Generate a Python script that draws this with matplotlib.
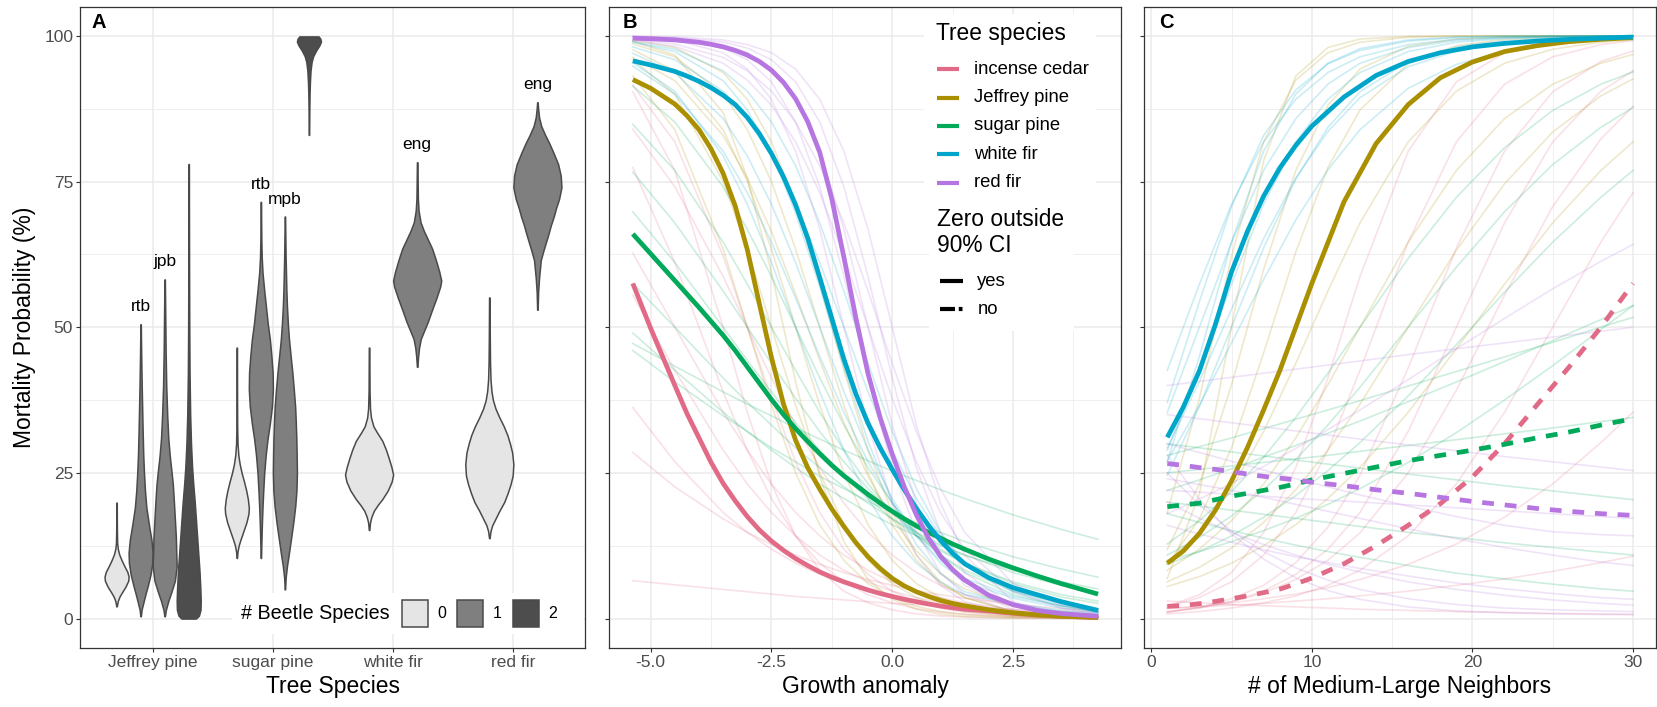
import matplotlib
matplotlib.use("Agg")
import matplotlib.pyplot as plt
import numpy as np
from matplotlib.patches import Rectangle
from matplotlib.lines import Line2D

W, H = 1658, 707
plt.rcParams['font.family'] = ['Liberation Sans', 'DejaVu Sans']
plt.rcParams['axes.unicode_minus'] = False

# ---------------- panel A: violins (mortality %, relative half width) ----------------
tree_cats = ["Jeffrey pine", "sugar pine", "white fir", "red fir"]
beetle_levels = ["0", "1", "2"]
beetle_fill = ["#E5E5E5", "#7F7F7F", "#4D4D4D"]

jp0_y = [2.1, 3.0, 3.8, 4.5, 5.5, 6.5, 7.2, 8.0, 9.0, 10.0, 11.0, 12.0, 13.0, 15.0, 17.5, 19.9]
jp0_w = [0.02, 0.1, 0.25, 0.45, 0.75, 0.97, 1.0, 0.9, 0.65, 0.42, 0.22, 0.1, 0.05, 0.03, 0.02, 0.015]
jp_rtb_y = [0.4, 1.5, 2.5, 4.0, 5.5, 7.5, 9.5, 11.3, 13.5, 16.0, 19.0, 22.0, 25.0, 28.0, 32.0, 36.0, 40.0, 45.0, 50.5]
jp_rtb_w = [0.02, 0.08, 0.2, 0.38, 0.58, 0.82, 0.97, 1.0, 0.9, 0.7, 0.48, 0.36, 0.28, 0.22, 0.17, 0.13, 0.09, 0.05, 0.015]
jp_jpb_y = [0.4, 1.5, 3.0, 4.5, 6.5, 9.0, 11.5, 14.0, 17.0, 20.0, 23.0, 25.0, 28.0, 31.0, 35.0, 40.0, 46.0, 52.0, 58.2]
jp_jpb_w = [0.02, 0.1, 0.3, 0.55, 0.85, 1.0, 0.96, 0.93, 0.85, 0.77, 0.68, 0.58, 0.42, 0.3, 0.21, 0.13, 0.08, 0.05, 0.015]
jp2_y = [0.0, 0.5, 1.5, 3.0, 5.0, 8.0, 11.0, 14.0, 17.0, 20.0, 23.0, 26.0, 30.0, 35.0, 42.0, 50.0, 60.0, 70.0, 78.0]
jp2_w = [0.6, 0.85, 0.98, 1.0, 0.97, 0.9, 0.8, 0.7, 0.6, 0.5, 0.38, 0.28, 0.19, 0.12, 0.07, 0.045, 0.03, 0.02, 0.015]

sp0_y = [10.4, 11.5, 12.5, 13.5, 15.0, 16.5, 18.0, 19.0, 20.5, 22.0, 23.5, 25.0, 26.5, 28.0, 30.0, 33.0, 38.0, 46.5]
sp0_w = [0.015, 0.06, 0.15, 0.3, 0.55, 0.8, 0.97, 1.0, 0.92, 0.78, 0.6, 0.4, 0.24, 0.13, 0.06, 0.03, 0.02, 0.015]
sp_rtb_y = [10.4, 13.6, 16.5, 19.3, 22.0, 25.0, 28.0, 30.7, 33.5, 36.4, 39.3, 42.2, 45.0, 47.9, 50.5, 53.6, 56.5, 59.3, 62.0, 65.0, 68.0, 71.5]
sp_rtb_w = [0.015, 0.05, 0.09, 0.14, 0.2, 0.28, 0.4, 0.55, 0.75, 0.92, 1.0, 0.98, 0.88, 0.75, 0.58, 0.42, 0.27, 0.14, 0.07, 0.04, 0.025, 0.015]
sp_mpb_y = [5.0, 7.0, 9.0, 11.0, 13.6, 16.5, 19.3, 22.0, 25.0, 28.0, 31.0, 34.0, 36.4, 39.3, 42.2, 45.0, 47.9, 50.5, 53.6, 56.5, 59.3, 62.0, 65.0, 69.0]
sp_mpb_w = [0.015, 0.06, 0.17, 0.32, 0.5, 0.7, 0.86, 0.96, 1.0, 0.98, 0.95, 0.9, 0.85, 0.74, 0.62, 0.48, 0.34, 0.25, 0.17, 0.12, 0.09, 0.06, 0.04, 0.015]
sp2_y = [83.0, 87.0, 90.0, 92.0, 94.0, 95.5, 96.5, 97.5, 98.3, 99.0, 99.5, 99.9]
sp2_w = [0.015, 0.03, 0.05, 0.08, 0.13, 0.22, 0.35, 0.6, 0.85, 1.0, 0.95, 0.8]

wf0_y = [15.2, 16.5, 17.5, 18.5, 19.5, 20.5, 22.0, 23.5, 24.7, 26.0, 27.5, 29.0, 30.5, 32.0, 33.0, 34.5, 36.0, 39.0, 46.5]
wf0_w = [0.01, 0.04, 0.1, 0.2, 0.36, 0.55, 0.78, 0.94, 1.0, 0.93, 0.82, 0.7, 0.55, 0.32, 0.18, 0.08, 0.04, 0.02, 0.01]
wf_eng_y = [43.2, 45.0, 46.5, 48.0, 49.5, 51.0, 53.0, 55.0, 57.0, 58.0, 59.5, 61.5, 63.5, 65.0, 66.5, 68.0, 70.0, 72.0, 75.0, 78.3]
wf_eng_w = [0.01, 0.04, 0.08, 0.15, 0.3, 0.45, 0.62, 0.8, 0.96, 1.0, 0.92, 0.78, 0.62, 0.45, 0.28, 0.14, 0.06, 0.03, 0.02, 0.01]

rf0_y = [13.8, 15.0, 16.0, 17.0, 18.5, 20.0, 21.5, 23.0, 24.5, 26.5, 28.5, 30.0, 31.5, 33.0, 34.5, 36.0, 37.5, 39.0, 41.0, 44.0, 48.0, 55.1]
rf0_w = [0.01, 0.05, 0.12, 0.24, 0.42, 0.62, 0.76, 0.88, 0.97, 1.0, 0.95, 0.86, 0.75, 0.6, 0.42, 0.26, 0.15, 0.09, 0.05, 0.03, 0.02, 0.01]
rf_eng_y = [53.0, 56.0, 58.5, 61.5, 63.0, 64.5, 66.0, 67.5, 69.0, 70.5, 72.0, 74.0, 76.0, 78.0, 80.0, 81.5, 83.0, 84.5, 86.0, 87.5, 88.6]
rf_eng_w = [0.01, 0.03, 0.07, 0.14, 0.24, 0.35, 0.46, 0.56, 0.68, 0.78, 0.9, 1.0, 0.97, 0.86, 0.66, 0.5, 0.32, 0.16, 0.07, 0.03, 0.01]

# (category, slot, slots, beetles, label, y, w)
violins = [
    (0, 0, 4, 0, None, jp0_y, jp0_w),
    (0, 1, 4, 1, "rtb", jp_rtb_y, jp_rtb_w),
    (0, 2, 4, 1, "jpb", jp_jpb_y, jp_jpb_w),
    (0, 3, 4, 2, None, jp2_y, jp2_w),
    (1, 0, 4, 0, None, sp0_y, sp0_w),
    (1, 1, 4, 1, "rtb", sp_rtb_y, sp_rtb_w),
    (1, 2, 4, 1, "mpb", sp_mpb_y, sp_mpb_w),
    (1, 3, 4, 2, None, sp2_y, sp2_w),
    (2, 0, 2, 0, None, wf0_y, wf0_w),
    (2, 1, 2, 1, "eng", wf_eng_y, wf_eng_w),
    (3, 0, 2, 0, None, rf0_y, rf0_w),
    (3, 1, 2, 1, "eng", rf_eng_y, rf_eng_w),
]

# ---------------- species curves ----------------
species = ["incense cedar", "Jeffrey pine", "sugar pine", "white fir", "red fir"]
sp_colors = ["#E16A86", "#AA9000", "#00AA5A", "#00A6CA", "#B675E0"]

# panel B: growth anomaly (mean curves)
growth_x = [-5.37, -5.0, -4.5, -4.25, -4.0, -3.75, -3.5, -3.25, -3.0, -2.75, -2.5, -2.25, -2.0, -1.75, -1.5, -1.25,
            -1.0, -0.75, -0.5, -0.25, 0.0, 0.25, 0.5, 0.75, 1.0, 1.25, 1.5, 2.0, 2.5, 3.0, 3.5, 4.26]
b_ic = [57.5, 49.8, 40.0, 35.2, 31.0, 26.8, 23.2, 20.2, 17.5, 15.2, 13.3, 11.7, 10.3, 9.1, 8.0, 7.1,
        6.3, 5.6, 4.9, 4.3, 3.8, 3.3, 2.9, 2.5, 2.15, 1.85, 1.6, 1.3, 0.9, 0.6, 0.4, 0.15]
b_jp = [92.5, 91.0, 88.3, 86.3, 83.9, 80.6, 76.4, 70.8, 63.3, 54.0, 44.8, 36.8, 30.6, 25.9, 22.2, 18.8,
        15.8, 13.0, 10.6, 8.6, 6.9, 5.6, 4.6, 3.8, 3.1, 2.6, 2.2, 1.5, 1.0, 0.65, 0.4, 0.2]
b_sp = [66.0, 62.6, 58.0, 55.7, 53.4, 51.0, 48.6, 46.0, 43.2, 40.4, 37.6, 35.0, 32.6, 30.4, 28.3, 26.3,
        24.5, 22.9, 21.3, 19.8, 18.4, 17.1, 15.9, 14.8, 13.8, 12.8, 11.9, 10.2, 8.7, 7.3, 6.0, 4.2]
b_wf = [95.7, 95.0, 93.9, 93.1, 92.2, 91.1, 89.8, 88.2, 86.0, 83.2, 79.8, 75.8, 71.0, 65.3, 58.5, 51.5,
        44.5, 38.5, 33.5, 29.3, 25.6, 22.1, 18.9, 16.0, 13.4, 11.2, 9.4, 7.0, 5.3, 4.1, 2.9, 1.4]
b_rf = [99.6, 99.5, 99.3, 99.1, 98.9, 98.55, 98.1, 97.5, 96.7, 95.6, 94.1, 92.0, 89.2, 85.3, 80.0, 72.0,
        62.0, 51.5, 42.0, 34.5, 28.2, 22.6, 17.8, 13.8, 10.7, 8.4, 6.6, 4.0, 2.4, 1.4, 0.85, 0.4]
b_main = [b_ic, b_jp, b_sp, b_wf, b_rf]

# panel B: individual posterior draws (faint lines)
growth_x_draws = [-5.37, -4.5, -3.5, -3.0, -2.5, -2.0, -1.5, -1.0, -0.5, 0.0, 0.5, 1.0, 1.5, 2.5, 3.5, 4.26]
bd_ic = [[77.4, 61.1, 38.9, 28.9, 20.6, 14.2, 9.5, 6.3, 4.1, 2.7, 1.7, 1.1, 0.7, 0.3, 0.12, 0.06],
         [91.5, 81.8, 62.2, 50.0, 37.8, 26.9, 18.2, 11.9, 7.6, 4.7, 2.9, 1.8, 1.1, 0.4, 0.15, 0.07],
         [55.5, 42.6, 28.9, 23.1, 18.2, 14.2, 10.9, 8.3, 6.3, 4.7, 3.6, 2.7, 2.0, 1.1, 0.6, 0.38],
         [36.2, 26.9, 18.2, 14.8, 11.9, 9.5, 7.6, 6.0, 4.7, 3.7, 2.9, 2.3, 1.8, 1.1, 0.67, 0.46],
         [28.5, 22.6, 17.1, 14.8, 12.7, 10.9, 9.3, 7.9, 6.7, 5.7, 4.8, 4.1, 3.5, 2.5, 1.7, 1.4],
         [6.5, 5.8, 5.0, 4.6, 4.2, 3.8, 3.5, 3.2, 2.9, 2.6, 2.4, 2.2, 2.0, 1.6, 1.3, 1.1],
         [90.4, 76.9, 50.0, 35.4, 23.1, 14.2, 8.3, 4.7, 2.7, 1.5, 0.8, 0.45, 0.25, 0.07, 0.02, 0.01],
         [84.0, 74.1, 58.7, 50.0, 41.3, 33.2, 25.9, 19.8, 14.8, 10.9, 7.9, 5.7, 4.1, 2.1, 1.05, 0.62],
         [62.7, 50.0, 35.4, 28.9, 23.1, 18.2, 14.2, 10.9, 8.3, 6.3, 4.7, 3.6, 2.7, 1.5, 0.8, 0.5]]
bd_jp = [[95.9, 90.0, 75.0, 63.4, 50.0, 36.6, 25.0, 16.1, 10.0, 6.0, 3.6, 2.1, 1.2, 0.45, 0.2, 0.1],
         [97.6, 94.0, 83.9, 75.0, 63.4, 50.0, 36.6, 25.0, 16.1, 10.0, 6.0, 3.6, 2.1, 0.8, 0.3, 0.15],
         [98.6, 96.4, 90.0, 83.9, 75.0, 63.4, 50.0, 36.6, 25.0, 16.1, 10.0, 6.0, 3.6, 1.3, 0.5, 0.25],
         [93.1, 83.9, 63.4, 50.0, 36.6, 25.0, 16.1, 10.0, 6.0, 3.6, 2.1, 1.2, 0.7, 0.25, 0.1, 0.05],
         [99.1, 96.7, 86.8, 75.6, 59.4, 40.6, 24.4, 13.2, 6.7, 3.3, 1.6, 0.75, 0.36, 0.1, 0.05, 0.03],
         [96.3, 92.3, 82.9, 75.6, 66.4, 55.7, 44.3, 33.6, 24.4, 17.1, 11.6, 7.7, 5.1, 2.1, 0.9, 0.45],
         [99.3, 98.0, 93.7, 89.1, 81.8, 71.1, 57.4, 42.6, 28.9, 18.2, 10.9, 6.3, 3.6, 1.1, 0.35, 0.15]]
bd_sp = [[76.6, 67.9, 56.2, 50.0, 43.8, 37.8, 32.1, 26.9, 22.3, 18.2, 14.8, 11.9, 9.5, 6.0, 3.7, 2.6],
         [57.5, 50.0, 41.3, 37.1, 33.2, 29.3, 25.9, 22.6, 19.8, 17.1, 14.8, 12.7, 10.9, 7.9, 5.7, 4.4],
         [84.8, 76.9, 64.6, 57.4, 50.0, 42.6, 35.4, 28.9, 23.1, 18.2, 14.2, 10.9, 8.3, 4.7, 2.7, 1.7],
         [49.0, 42.6, 35.4, 32.1, 28.9, 25.9, 23.1, 20.6, 18.2, 16.1, 14.2, 12.5, 10.9, 8.3, 6.3, 5.1],
         [69.8, 61.1, 50.0, 44.3, 38.9, 33.6, 28.9, 24.4, 20.6, 17.1, 14.2, 11.6, 9.5, 6.3, 4.1, 3.0],
         [46.0, 40.6, 34.8, 32.1, 29.3, 26.9, 24.4, 22.3, 20.1, 18.2, 16.4, 14.8, 13.2, 10.6, 8.5, 7.1],
         [47.2, 43.3, 38.9, 36.8, 34.8, 32.7, 30.8, 28.9, 27.1, 25.3, 23.7, 22.1, 20.6, 17.8, 15.3, 13.6],
         [91.4, 85.2, 74.1, 66.8, 58.7, 50.0, 41.3, 33.2, 25.9, 19.8, 14.8, 10.9, 7.9, 4.1, 2.1, 1.2]]
bd_wf = [[97.0, 93.7, 85.8, 79.4, 71.1, 61.1, 50.0, 38.9, 28.9, 20.6, 14.2, 9.5, 6.3, 3.5, 1.8, 1.1],
         [98.1, 95.9, 90.5, 85.8, 79.4, 71.1, 61.1, 50.0, 38.9, 28.9, 20.6, 14.2, 9.5, 4.8, 2.5, 1.6],
         [95.4, 90.5, 79.4, 71.1, 61.1, 50.0, 38.9, 28.9, 20.6, 14.2, 9.5, 6.3, 4.1, 2.6, 1.4, 0.9],
         [98.9, 97.3, 92.3, 87.3, 79.9, 69.6, 56.9, 43.1, 30.4, 20.1, 12.7, 7.7, 4.6, 2.4, 1.2, 0.7],
         [94.8, 90.0, 80.2, 73.1, 64.6, 55.0, 45.0, 35.4, 26.9, 19.8, 14.2, 10.0, 6.9, 3.8, 2.2, 1.5],
         [99.0, 97.7, 94.0, 90.5, 85.2, 77.7, 67.9, 56.2, 43.8, 32.1, 22.3, 14.8, 9.5, 4.5, 2.2, 1.3]]
bd_rf = [[99.7, 99.3, 97.1, 94.3, 89.1, 80.2, 66.8, 50.0, 33.2, 19.8, 10.9, 5.7, 2.9, 0.9, 0.35, 0.2],
         [99.8, 99.5, 97.9, 95.9, 92.1, 85.2, 74.1, 58.7, 41.3, 25.9, 14.8, 7.9, 4.1, 1.1, 0.4, 0.2],
         [99.85, 99.6, 98.5, 97.1, 94.3, 89.1, 80.2, 66.8, 50.0, 33.2, 19.8, 10.9, 5.7, 1.5, 0.5, 0.25],
         [99.9, 99.7, 98.95, 97.9, 95.9, 92.1, 85.2, 74.1, 58.7, 41.3, 25.9, 14.8, 7.9, 2.1, 0.6, 0.3],
         [99.93, 99.8, 99.3, 98.5, 97.1, 94.3, 89.1, 80.2, 66.8, 50.0, 33.2, 19.8, 10.9, 2.9, 0.8, 0.35],
         [99.2, 98.2, 95.3, 92.4, 88.1, 81.8, 73.1, 62.2, 50.0, 37.8, 26.9, 18.2, 11.9, 4.7, 1.8, 0.85],
         [99.4, 98.6, 96.3, 94.0, 90.5, 85.2, 77.7, 67.9, 56.2, 43.8, 32.1, 22.3, 14.8, 6.0, 2.3, 1.1]]
b_draws = [bd_ic, bd_jp, bd_sp, bd_wf, bd_rf]

# panel C: medium-large neighbours (mean curves)
nbr_x = [1, 2, 3, 4, 5, 6, 7, 8, 9, 10, 12, 14, 16, 18, 20, 22, 24, 26, 28, 30]
c_ic = [2.1, 2.25, 2.55, 2.95, 3.4, 3.9, 4.45, 5.05, 5.95, 6.95, 9.4, 12.5, 16.0, 19.7, 24.3, 30.0, 36.6, 43.1, 50.0, 57.5]
c_jp = [9.5, 11.6, 14.6, 18.6, 23.6, 29.4, 35.8, 42.5, 50.0, 57.5, 71.5, 81.5, 88.2, 92.8, 95.5, 97.3, 98.3, 99.0, 99.4, 99.7]
c_sp = [19.2, 19.5, 19.8, 20.4, 21.0, 21.5, 22.0, 22.5, 23.1, 23.8, 24.9, 26.0, 27.1, 28.0, 28.9, 29.9, 31.0, 32.0, 33.2, 34.3]
c_wf = [31.1, 36.3, 42.5, 50.5, 59.5, 66.5, 72.5, 77.3, 81.2, 84.5, 89.5, 93.2, 95.6, 97.1, 98.1, 98.7, 99.1, 99.4, 99.6, 99.8]
c_rf = [26.6, 26.3, 25.9, 25.6, 25.2, 24.8, 24.4, 24.1, 23.8, 23.4, 22.8, 22.1, 21.5, 20.8, 20.1, 19.5, 18.9, 18.4, 18.0, 17.7]
c_main = [c_ic, c_jp, c_sp, c_wf, c_rf]
c_zero_outside = ["no", "yes", "no", "yes", "no"]

# panel C: individual posterior draws (faint lines)
nbr_x_draws = [1, 3, 5, 7, 9, 11, 13, 16, 19, 22, 25, 28, 30]
cd_ic = [[2.0, 3.6, 6.3, 10.9, 18.2, 28.9, 42.6, 64.6, 81.8, 91.7, 96.4, 98.5, 99.2],
         [1.1, 1.9, 3.4, 5.7, 9.6, 15.7, 24.6, 43.0, 63.6, 80.2, 90.4, 95.6, 97.4],
         [1.2, 1.9, 2.9, 4.4, 6.7, 10.0, 14.7, 25.0, 39.2, 55.5, 70.7, 82.3, 87.9],
         [0.8, 1.2, 1.8, 2.7, 3.9, 5.7, 8.3, 14.2, 23.1, 35.4, 50.0, 64.6, 73.1],
         [2.1, 4.1, 7.9, 14.8, 25.9, 41.3, 58.7, 80.2, 92.1, 97.1, 98.95, 99.6, 99.8],
         [1.7, 2.1, 2.7, 3.4, 4.2, 5.3, 6.7, 9.3, 12.8, 17.4, 23.1, 30.2, 35.4],
         [3.0, 2.7, 2.4, 2.2, 2.0, 1.8, 1.6, 1.4, 1.2, 1.05, 0.9, 0.8, 0.7],
         [1.8, 2.0, 2.3, 2.6, 3.0, 3.4, 3.9, 4.7, 5.7, 6.8, 8.1, 9.6, 10.7],
         [1.1, 1.8, 2.9, 4.7, 7.6, 11.9, 18.2, 32.1, 50.0, 67.9, 81.8, 90.5, 94.0]]
cd_jp = [[18.2, 37.8, 62.2, 81.8, 92.4, 97.1, 98.9, 99.75, 99.94, 100, 100, 100, 100],
         [11.9, 23.1, 40.1, 59.9, 76.9, 88.1, 94.3, 98.2, 99.45, 99.8, 99.95, 99.98, 99.99],
         [9.5, 14.8, 22.3, 32.1, 43.8, 56.2, 67.9, 81.8, 90.5, 95.3, 97.7, 98.9, 99.3],
         [8.3, 11.9, 16.8, 23.1, 31.0, 40.1, 50.0, 64.6, 76.9, 85.8, 91.7, 95.3, 96.8],
         [6.3, 8.8, 12.1, 16.5, 22.1, 28.9, 36.8, 50.0, 63.2, 74.6, 83.5, 89.7, 92.6],
         [9.3, 17.1, 29.3, 45.6, 62.9, 77.4, 87.3, 95.2, 98.3, 99.4, 99.8, 99.9, 99.96],
         [6.9, 21.4, 50.0, 78.6, 93.1, 98.0, 99.45, 99.9, 100, 100, 100, 100, 100],
         [5.5, 7.2, 9.5, 12.5, 16.1, 20.6, 25.9, 35.4, 46.3, 57.4, 67.9, 76.9, 81.8]]
cd_sp = [[10.9, 13.9, 17.6, 22.1, 27.3, 33.2, 39.7, 50.0, 60.3, 69.8, 77.9, 84.3, 87.7],
         [25.0, 25.6, 26.2, 26.8, 27.4, 28.0, 28.7, 29.7, 30.7, 31.7, 32.7, 33.8, 34.5],
         [20.0, 19.3, 18.6, 17.9, 17.2, 16.5, 15.8, 14.8, 13.9, 13.0, 12.2, 11.4, 10.9],
         [9.3, 11.5, 14.2, 17.4, 21.1, 25.4, 30.2, 38.2, 47.0, 56.0, 64.6, 72.3, 76.9],
         [28.0, 29.5, 31.0, 32.6, 34.2, 35.8, 37.4, 39.9, 42.4, 44.9, 47.4, 50.0, 51.7],
         [18.0, 16.5, 15.1, 13.8, 12.6, 11.5, 10.5, 9.1, 7.8, 6.8, 5.9, 5.1, 4.7],
         [22.0, 23.8, 25.7, 27.7, 29.7, 31.8, 33.9, 37.2, 40.6, 44.1, 47.7, 51.3, 53.7],
         [10.0, 11.5, 13.2, 15.1, 17.2, 19.6, 22.3, 26.8, 31.9, 37.5, 43.4, 49.6, 53.7],
         [30.0, 29.3, 28.6, 27.9, 27.2, 26.5, 25.8, 24.8, 23.8, 22.8, 21.9, 21.0, 20.4],
         [12.8, 16.8, 21.8, 27.7, 34.5, 42.1, 50.0, 61.8, 72.3, 80.8, 87.2, 91.7, 93.8]]
cd_wf = [[35.4, 50.0, 64.6, 76.9, 85.8, 91.7, 95.3, 98.0, 99.2, 99.67, 99.86, 99.94, 99.97],
         [28.9, 42.6, 57.4, 71.1, 81.8, 89.1, 93.7, 97.3, 98.9, 99.55, 99.8, 99.93, 99.96],
         [24.6, 36.4, 50.0, 63.6, 75.4, 84.3, 90.4, 95.6, 98.1, 99.15, 99.63, 99.84, 99.91],
         [37.1, 54.4, 70.7, 82.9, 90.7, 95.2, 97.5, 99.1, 99.7, 99.9, 99.96, 99.98, 99.99],
         [29.3, 40.7, 53.1, 65.2, 75.6, 83.6, 89.4, 94.7, 97.4, 98.8, 99.4, 99.7, 99.8],
         [26.9, 45.0, 64.6, 80.2, 90.0, 95.3, 97.8, 99.3, 99.8, 99.94, 99.98, 99.99, 100],
         [42.6, 57.4, 71.1, 81.8, 89.1, 93.7, 96.4, 98.5, 99.4, 99.75, 99.9, 99.96, 99.98],
         [27.1, 36.6, 47.3, 58.2, 68.4, 77.0, 83.9, 91.0, 95.1, 97.4, 98.6, 99.3, 99.5]]
cd_rf = [[35.0, 34.3, 33.6, 32.9, 32.2, 31.5, 30.8, 29.8, 28.8, 27.8, 26.9, 26.0, 25.4],
         [20.0, 17.2, 14.8, 12.7, 10.9, 9.3, 8.0, 6.3, 5.0, 4.0, 3.2, 2.6, 2.3],
         [30.0, 28.5, 27.0, 25.5, 24.0, 22.6, 21.2, 19.3, 17.5, 16.0, 14.9, 14.4, 14.2],
         [25.0, 19.5, 15.0, 11.5, 8.7, 6.6, 5.0, 3.4, 2.4, 1.8, 1.5, 1.3, 1.2],
         [40.0, 40.7, 41.4, 42.1, 42.8, 43.5, 44.2, 45.3, 46.3, 47.3, 48.3, 49.3, 50.0],
         [16.0, 14.5, 13.1, 11.8, 10.6, 9.6, 8.6, 7.3, 6.1, 5.1, 4.3, 3.6, 3.3],
         [28.0, 20.5, 14.5, 10.2, 7.0, 4.8, 3.3, 2.0, 1.3, 1.0, 0.8, 0.7, 0.7],
         [22.0, 21.7, 21.3, 21.0, 20.6, 20.3, 20.0, 19.5, 19.0, 18.5, 18.0, 17.5, 17.2],
         [18.0, 20.5, 23.2, 26.1, 29.2, 32.4, 35.8, 41.0, 46.3, 51.5, 56.6, 61.3, 64.2],
         [24.0, 23.0, 22.0, 20.8, 19.6, 18.4, 17.2, 15.4, 13.7, 12.2, 10.9, 9.7, 9.1]]
c_draws = [cd_ic, cd_jp, cd_sp, cd_wf, cd_rf]

y_ticks = [0, 25, 50, 75, 100]
b_ticks = [-5.0, -2.5, 0.0, 2.5]
b_tick_labels = ["-5.0", "-2.5", "0.0", "2.5"]
c_ticks = [0, 10, 20, 30]

# ---------------- figure ----------------
GRID = "#EBEBEB"
DARK = "#333333"
OUTLINE = "#4A4A4A"
MAIN_LW = 3.4
DASH = (2.5, 2.3)
FAINT_LW = 1.2
FAINT_ALPHA = 0.2


def px(x, y):
    return x / W, 1 - y / H


def new_axes(x0, x1, y0=6.7, y1=647.7):
    ax = fig.add_axes([x0 / W, 1 - y1 / H, (x1 - x0) / W, (y1 - y0) / H])
    for s in ax.spines.values():
        s.set_color(DARK)
        s.set_linewidth(0.9)
    ax.tick_params(length=2.9, width=0.8, color=DARK, labelcolor="#4D4D4D", labelsize=12.5, pad=2.4)
    ax.tick_params(which="minor", length=0)
    ax.set_ylim(-5, 105)
    ax.set_yticks(y_ticks)
    ax.set_yticks([12.5, 37.5, 62.5, 87.5], minor=True)
    ax.grid(which="major", color=GRID, lw=1.1)
    ax.grid(which="minor", color=GRID, lw=0.55)
    ax.set_axisbelow(True)
    return ax


fig = plt.figure(figsize=(W / 100, H / 100), dpi=100)

# ---- A ----
axA = new_axes(80.5, 585.5)
axA.set_xlim(0.4, 4.6)
axA.set_xticks(range(1, 5))
axA.set_xticklabels(tree_cats)
axA.set_yticklabels([str(v) for v in y_ticks])
for cat, slot, n, beetles, label, ys, ws in violins:
    cx = cat + 1 + (slot - (n - 1) / 2) * 0.8 / n
    hw = 0.4 / n
    w = np.asarray(ws) * hw
    axA.fill_betweenx(ys, cx - w, cx + w, facecolor=beetle_fill[beetles],
                      edgecolor=OUTLINE, linewidth=1.1, zorder=3)
    if label:
        axA.text(cx, max(ys) + 3.0, label, ha="center", va="center", fontsize=12.5, color="black")

# ---- B ----
axB = new_axes(609, 1120.7)
axB.set_xlim(-5.863, 4.73)
axB.set_xticks(b_ticks)
axB.set_xticklabels(b_tick_labels)
axB.set_xticks([-3.75, -1.25, 1.25, 3.75], minor=True)
axB.set_yticklabels([])
for draws, col in zip(b_draws, sp_colors):
    for d in draws:
        axB.plot(growth_x_draws, d, color=col, lw=FAINT_LW, alpha=FAINT_ALPHA, zorder=2)
for vals, col in zip(b_main, sp_colors):
    axB.plot(growth_x, vals, color=col, lw=MAIN_LW, solid_capstyle="butt",
             solid_joinstyle="round", zorder=4)

# ---- C ----
axC = new_axes(1144, 1656.3)
axC.set_xlim(-0.45, 31.45)
axC.set_xticks(c_ticks)
axC.set_xticklabels([str(v) for v in c_ticks])
axC.set_xticks([5, 15, 25], minor=True)
axC.set_yticklabels([])
for draws, col in zip(c_draws, sp_colors):
    for d in draws:
        axC.plot(nbr_x_draws, d, color=col, lw=FAINT_LW, alpha=FAINT_ALPHA, zorder=2)
for vals, col, z in zip(c_main, sp_colors, c_zero_outside):
    ln, = axC.plot(nbr_x, vals, color=col, lw=MAIN_LW, solid_capstyle="butt",
                   solid_joinstyle="round", zorder=4)
    if z == "no":
        ln.set_dashes(DASH)
        ln.set_dash_capstyle("butt")

# ---- axis titles and tags ----
fig.text(*px(333, 687), "Tree Species", ha="center", va="center", fontsize=16.5)
fig.text(*px(865, 687), "Growth anomaly", ha="center", va="center", fontsize=16.5)
fig.text(*px(1400, 687), "# of Medium-Large Neighbors", ha="center", va="center", fontsize=16.5)
fig.text(*px(25, 327), "Mortality Probability (%)", ha="center", va="center", rotation=90, fontsize=16.5)
for tag, x in zip(["A", "B", "C"], [92, 623, 1159]):
    fig.text(*px(x, 23), tag, ha="left", va="center", fontsize=14.5, fontweight="bold")


def fig_rect(x0, y0, x1, y1, **kw):
    fig.add_artist(Rectangle(px(x0, y1), (x1 - x0) / W, (y1 - y0) / H,
                             transform=fig.transFigure, **kw))


def fig_line(x0, x1, y, **kw):
    fig.add_artist(Line2D([x0 / W, x1 / W], [1 - y / H] * 2, transform=fig.transFigure,
                          solid_capstyle="butt", dash_capstyle="butt", **kw))


# ---- legend in B ----
fig_rect(924, 14, 1096, 197, facecolor="white", edgecolor="none")
fig_rect(929, 197, 1074, 331, facecolor="white", edgecolor="none")
fig.text(*px(935.7, 33.3), "Tree species", ha="left", va="center", fontsize=16.4)
for i, (name, col) in enumerate(zip(species, sp_colors)):
    y = 69.3 + i * 28.35
    fig_line(937.3, 959, y, color=col, lw=3.0)
    fig.text(*px(974, y), name, ha="left", va="center", fontsize=13.3)
fig.text(*px(937.3, 220), "Zero outside", ha="left", va="center", fontsize=16.4)
fig.text(*px(937.3, 245), "90% CI", ha="left", va="center", fontsize=16.4)
for i, lab in enumerate(["yes", "no"]):
    y = 281 + i * 28.3
    if lab == "yes":
        fig_line(940, 963, y, color="black", lw=3.0)
    else:
        fig_line(940, 963, y, color="black", lw=3.0, dashes=(3.6, 0.9, 0.9, 3))
    fig.text(*px(977.3, y), lab, ha="left", va="center", fontsize=13.3)

# ---- legend in A ----
fig_rect(232, 593, 584, 634, facecolor="white", edgecolor="none")
fig.text(*px(240.7, 613.5), "# Beetle Species", ha="left", va="center", fontsize=14.2)
key_x = [402, 457, 513]
for lev, fill, kx in zip(beetle_levels, beetle_fill, key_x):
    fig_rect(kx, 600, kx + 26, 627, facecolor=fill, edgecolor=OUTLINE, linewidth=1.1)
    fig.text(*px(kx + 40, 613.5), lev, ha="center", va="center", fontsize=11.5)

fig.savefig("out.png", dpi=100)
